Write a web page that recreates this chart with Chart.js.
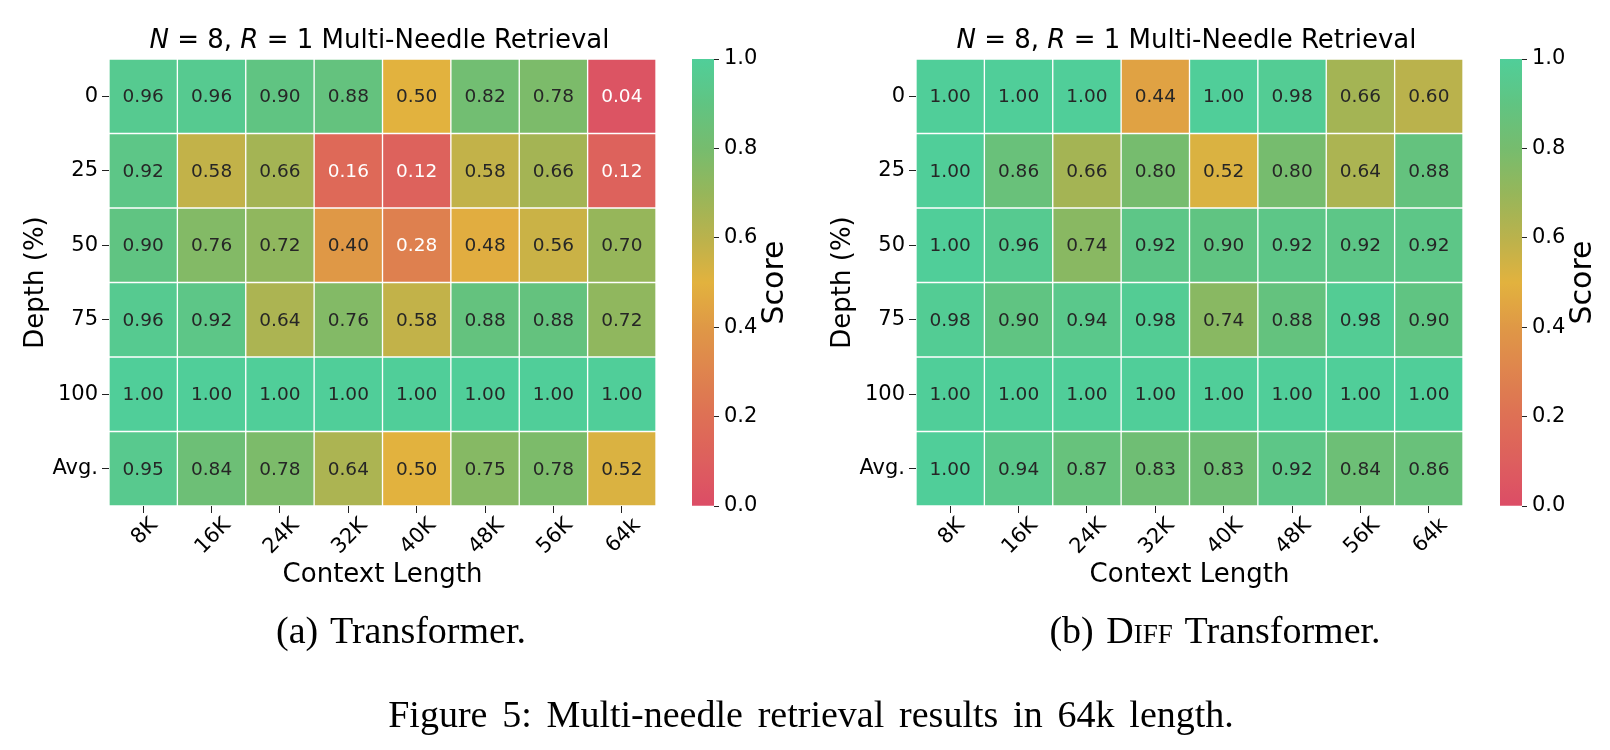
<!DOCTYPE html>
<html>
<head>
<meta charset="utf-8">
<script src="https://cdn.jsdelivr.net/npm/chart.js@4.4.1/dist/chart.umd.min.js"></script>
<style>
  body { margin: 0; background: #fff; }
  #fig { position: relative; width: 1610px; height: 750px; overflow: hidden; }
  #fig canvas { position: absolute; top: 0; }
  .cap { position: absolute; width: 700px; text-align: center; font-family: "Liberation Serif", serif;
         font-size: 38px; line-height: 38px; color: #000; white-space: nowrap; word-spacing: 0.08em; }
  .sc { font-variant: small-caps; }
</style>
</head>
<body>
<div id="fig">
  <canvas id="hmA" style="left:0px"></canvas>
  <canvas id="cbA" style="left:680px"></canvas>
  <canvas id="hmB" style="left:807px"></canvas>
  <canvas id="cbB" style="left:1488px"></canvas>
  <div class="cap" style="left:51px; top:611px">(a) Transformer.</div>
  <div class="cap" style="left:865px; top:611px">(b) D<span class="sc">iff</span> Transformer.</div>
  <div class="cap" style="left:311px; top:695px; width:1000px; word-spacing:0.14em">Figure 5: Multi-needle retrieval results in 64k length.</div>
</div>
<script>
var contextLabels = ['8K', '16K', '24K', '32K', '40K', '48K', '56K', '64k'];
var depthLabels = ['0', '25', '50', '75', '100', 'Avg.'];

// rows follow depthLabels, columns follow contextLabels
var transformerScores = [
  [0.96, 0.96, 0.90, 0.88, 0.50, 0.82, 0.78, 0.04],
  [0.92, 0.58, 0.66, 0.16, 0.12, 0.58, 0.66, 0.12],
  [0.90, 0.76, 0.72, 0.40, 0.28, 0.48, 0.56, 0.70],
  [0.96, 0.92, 0.64, 0.76, 0.58, 0.88, 0.88, 0.72],
  [1.00, 1.00, 1.00, 1.00, 1.00, 1.00, 1.00, 1.00],
  [0.95, 0.84, 0.78, 0.64, 0.50, 0.75, 0.78, 0.52]
];
var diffScores = [
  [1.00, 1.00, 1.00, 0.44, 1.00, 0.98, 0.66, 0.60],
  [1.00, 0.86, 0.66, 0.80, 0.52, 0.80, 0.64, 0.88],
  [1.00, 0.96, 0.74, 0.92, 0.90, 0.92, 0.92, 0.92],
  [0.98, 0.90, 0.94, 0.98, 0.74, 0.88, 0.98, 0.90],
  [1.00, 1.00, 1.00, 1.00, 1.00, 1.00, 1.00, 1.00],
  [1.00, 0.94, 0.87, 0.83, 0.83, 0.92, 0.84, 0.86]
];
var colorbarTicks = [0, 0.2, 0.4, 0.6, 0.8, 1.0];
var colorbarRange = [0, 1];

// red -> yellow -> green map
var cmapStops = [
  [0.0, [220, 77, 102]],
  [0.2, [222, 112, 85]],
  [0.4, [223, 152, 70]],
  [0.5, [226, 178, 62]],
  [0.6, [186, 178, 76]],
  [0.7, [150, 182, 90]],
  [0.8, [118, 188, 110]],
  [0.9, [96, 196, 130]],
  [1.0, [80, 206, 153]]
];
function cmap(v) {
  v = Math.max(0, Math.min(1, v));
  for (var i = 1; i < cmapStops.length; i++) {
    var a = cmapStops[i - 1], b = cmapStops[i];
    if (v <= b[0]) {
      var t = (v - a[0]) / (b[0] - a[0]);
      var c = a[1].map(function(x, k) { return Math.round(x + (b[1][k] - x) * t); });
      return 'rgb(' + c.join(',') + ')';
    }
  }
}
function textColor(v) { return v < 0.34 ? '#ffffff' : '#262626'; }

Chart.defaults.font.family = '"DejaVu Sans", sans-serif';
Chart.defaults.color = '#000';
Chart.defaults.animation = false;

var TICK_PX = 21;

var heatText = {
  id: 'heatText',
  afterDatasetsDraw: function(chart) {
    var ctx = chart.ctx;
    var scores = chart.options.plugins.heatText.scores;
    ctx.save();
    ctx.font = '18.5px "DejaVu Sans"';
    ctx.textAlign = 'center';
    ctx.textBaseline = 'middle';
    chart.data.datasets.forEach(function(ds, r) {
      chart.getDatasetMeta(r).data.forEach(function(bar, c) {
        var v = scores[r][c];
        ctx.fillStyle = textColor(v);
        ctx.fillText(v.toFixed(2), bar.x, (bar.y + bar.base) / 2 + 1);
      });
    });
    ctx.restore();
  },
  afterDraw: function(chart) {
    var ctx = chart.ctx, area = chart.chartArea, xs = chart.scales.x;
    ctx.save();
    ctx.fillStyle = '#000';
    // rotated context labels, centred under their ticks like matplotlib
    ctx.font = TICK_PX + 'px "DejaVu Sans"';
    ctx.textAlign = 'center';
    ctx.textBaseline = 'alphabetic';
    contextLabels.forEach(function(lab, i) {
      var x = xs.getPixelForTick(i);
      var w = ctx.measureText(lab).width;
      var half = (w + 0.73 * TICK_PX) * Math.SQRT1_2 / 2;
      ctx.save();
      ctx.translate(x, area.bottom + 9 + half);
      ctx.rotate(-Math.PI / 4);
      ctx.fillText(lab, 0, 0.365 * TICK_PX);
      ctx.restore();
    });
    // title with italic N and R
    var parts = [['N', 'italic '], [' = 8, ', ''], ['R', 'italic '], [' = 1 Multi-Needle Retrieval', '']];
    var total = 0;
    parts.forEach(function(p) {
      ctx.font = p[1] + '26px "DejaVu Sans"';
      total += ctx.measureText(p[0]).width;
    });
    var x0 = (area.left + area.right) / 2 - total / 2 - 3;
    ctx.textAlign = 'left';
    parts.forEach(function(p) {
      ctx.font = p[1] + '26px "DejaVu Sans"';
      ctx.fillText(p[0], x0, 48);
      x0 += ctx.measureText(p[0]).width;
    });
    ctx.restore();
  }
};

function makeHeatmap(id, scores) {
  var canvas = document.getElementById(id);
  canvas.width = 680;
  canvas.height = 750;
  canvas.style.width = '680px';
  canvas.style.height = '750px';
  var datasets = depthLabels.map(function(d, r) {
    return {
      label: d,
      data: contextLabels.map(function() { return 1; }),
      backgroundColor: scores[r].map(cmap),
      borderColor: '#ffffff',
      borderWidth: 1,
      borderSkipped: false,
      barPercentage: 1,
      categoryPercentage: 1
    };
  });
  return new Chart(canvas, {
    type: 'bar',
    data: { labels: contextLabels, datasets: datasets },
    plugins: [heatText],
    options: {
      responsive: false,
      events: [],
      layout: { padding: { left: 0, top: 59, right: 24, bottom: 144 } },
      plugins: {
        legend: { display: false },
        tooltip: { enabled: false },
        heatText: { scores: scores }
      },
      scales: {
        x: {
          stacked: true,
          border: { display: false },
          grid: { offset: false, drawOnChartArea: false, tickLength: 7, tickColor: '#222', tickWidth: 1 },
          ticks: { display: false },
          title: { display: true, text: 'Context Length', font: { size: 26 }, padding: { bottom: 15.4, top: 0 } },
          afterFit: function(s) { s.height = 100; }
        },
        y: {
          stacked: true,
          reverse: true,
          min: 0,
          max: depthLabels.length,
          border: { display: false },
          grid: { drawOnChartArea: false, tickLength: 7, tickColor: '#222', tickWidth: 1 },
          afterBuildTicks: function(s) {
            s.ticks = depthLabels.map(function(l, i) { return { value: i + 0.5 }; });
          },
          ticks: {
            padding: 4,
            font: { size: TICK_PX },
            callback: function(v, i) { return depthLabels[i]; }
          },
          title: { display: true, text: 'Depth (%)', font: { size: 26 }, padding: { top: 20.4, bottom: 0 } },
          afterFit: function(s) { s.width = 109; }
        }
      }
    }
  });
}

var scoreLabel = {
  id: 'scoreLabel',
  afterDraw: function(chart) {
    var ctx = chart.ctx, area = chart.chartArea;
    ctx.save();
    ctx.fillStyle = '#000';
    ctx.font = '30px "DejaVu Sans"';
    ctx.textAlign = 'center';
    ctx.textBaseline = 'middle';
    ctx.translate(95, (area.top + area.bottom) / 2);
    ctx.rotate(-Math.PI / 2);
    ctx.fillText('Score', 0, 0);
    ctx.restore();
  }
};

function makeColorbar(id) {
  var canvas = document.getElementById(id);
  canvas.width = 122;
  canvas.height = 750;
  canvas.style.width = '122px';
  canvas.style.height = '750px';
  return new Chart(canvas, {
    type: 'bar',
    data: {
      labels: [''],
      datasets: [{
        data: [colorbarRange],
        barPercentage: 1,
        categoryPercentage: 1,
        borderWidth: 0,
        backgroundColor: function(c) {
          var area = c.chart.chartArea;
          if (!area) return cmap(1);
          var g = c.chart.ctx.createLinearGradient(0, area.bottom, 0, area.top);
          for (var k = 0; k <= 40; k++) g.addColorStop(k / 40, cmap(k / 40));
          return g;
        }
      }]
    },
    plugins: [scoreLabel],
    options: {
      responsive: false,
      events: [],
      layout: { padding: { left: 12, top: 59, right: 0, bottom: 244 } },
      plugins: { legend: { display: false }, tooltip: { enabled: false } },
      scales: {
        x: { display: false },
        y: {
          position: 'right',
          min: colorbarRange[0],
          max: colorbarRange[1],
          border: { display: false },
          grid: { drawOnChartArea: false, tickLength: 5, tickColor: '#222', tickWidth: 1 },
          afterBuildTicks: function(s) {
            s.ticks = colorbarTicks.map(function(v) { return { value: v }; });
          },
          ticks: {
            padding: 5,
            font: { size: TICK_PX },
            callback: function(v) { return v.toFixed(1); }
          },
          afterFit: function(s) { s.width = 88; }
        }
      }
    }
  });
}

makeHeatmap('hmA', transformerScores);
makeColorbar('cbA');
makeHeatmap('hmB', diffScores);
makeColorbar('cbB');
</script>
</body>
</html>
